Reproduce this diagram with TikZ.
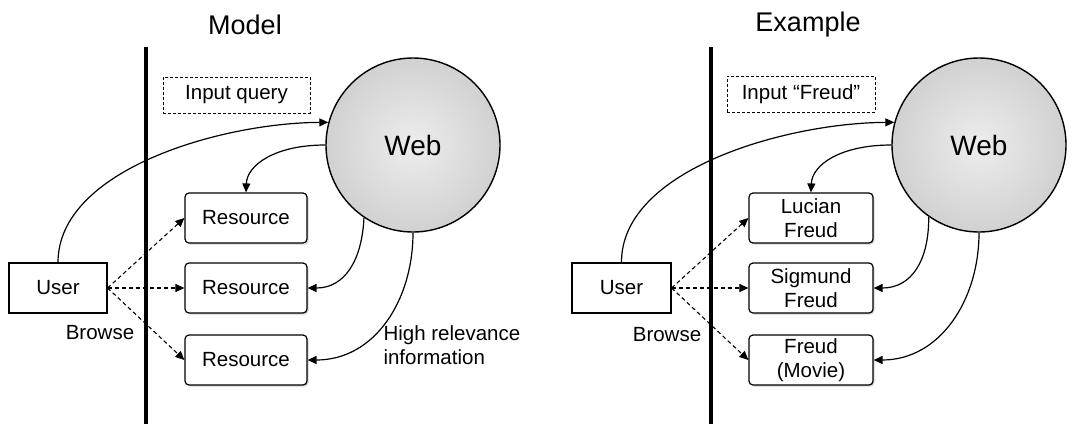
\documentclass[tikz,border=0pt]{standalone}
\usepackage{fontspec}
\setmainfont{Liberation Sans}
\usetikzlibrary{arrows.meta,shadows}
\begin{document}
\begin{tikzpicture}[x=1pt,y=-1pt,
  txt/.style={font=\fontsize{20.5}{24}\selectfont},
  title/.style={font=\fontsize{27}{31}\selectfont},
  resbox/.style={draw,line width=1.2pt,rounded corners=4pt,fill=white,txt,align=center,
    minimum height=50pt,inner sep=0pt,drop shadow={shadow xshift=1.5pt,shadow yshift=-1.5pt,opacity=0.35}},
  userbox/.style={draw,line width=1.2pt,fill=white,txt,minimum width=98pt,minimum height=50pt,inner sep=0pt},
  inbox/.style={draw,line width=1pt,dash pattern=on 3pt off 2pt,txt,minimum height=36pt,inner sep=0pt},
  webnode/.style={circle,draw,line width=1.4pt,minimum size=174pt,inner sep=0pt,
    inner color=gray!14,outer color=gray!36,font=\fontsize{28}{32}\selectfont},
  solidarr/.style={line width=1.2pt,-{Triangle[length=9pt,width=8pt]}},
  dasharr/.style={line width=1.1pt,dash pattern=on 4pt off 3pt,-{Triangle[length=9pt,width=8pt]}},
  divider/.style={line width=4pt}
]
\useasboundingbox (0,0) rectangle (1075,424);

% ---------- Left: Model ----------
\node[title] (t1) at (245,25) {Model};
\coordinate (d1top) at (146,47);
\coordinate (d1bot) at (146,424);
\draw[divider] (d1top) -- (d1bot);
\node[inbox,minimum width=147pt] (q1) at (236.5,95) {Input query};
\node[webnode] (w1) at (413,145) {Web};
\node[resbox,minimum width=122pt] (r11) at (246,218) {Resource};
\node[resbox,minimum width=122pt] (r12) at (246,288) {Resource};
\node[resbox,minimum width=122pt] (r13) at (246,360) {Resource};
\node[userbox] (u1) at (58,288) {User};
\node[txt] (b1) at (100,333) {Browse};
\node[txt,anchor=west,align=left] (h1) at (380,345) {High relevance\\information};

\draw[solidarr] (u1.north) .. controls (58,170) and (220,123) .. (w1.165);
\draw[solidarr] (w1.180) .. controls (275,145) and (247,165) .. (r11.north);
\draw[solidarr] (w1.236) .. controls (362,260) and (345,288) .. (r12.east);
\draw[solidarr] (w1.south) .. controls (413,300) and (375,360) .. (r13.east);
\draw[dasharr] (u1.east) -- (r11.west);
\draw[dasharr] (u1.east) -- (r12.west);
\draw[dasharr] (u1.east) -- (r13.west);

% ---------- Right: Example ----------
\node[title] (t2) at (808,25) {Example};
\coordinate (d2top) at (711,47);
\coordinate (d2bot) at (711,424);
\draw[divider] (d2top) -- (d2bot);
\node[inbox,minimum width=148pt] (q2) at (801,94) {Input “Freud”};
\node[webnode] (w2) at (979,145) {Web};
\node[resbox,minimum width=124pt] (r21) at (811,218) {Lucian\\Freud};
\node[resbox,minimum width=124pt] (r22) at (811,288) {Sigmund\\Freud};
\node[resbox,minimum width=124pt] (r23) at (811,360) {Freud\\(Movie)};
\node[userbox,minimum width=99pt] (u2) at (621.5,288) {User};
\node[txt] (b2) at (667,335) {Browse};

\draw[solidarr] (u2.north) .. controls (621,170) and (785,123) .. (w2.165);
\draw[solidarr] (w2.180) .. controls (840,145) and (812,165) .. (r21.north);
\draw[solidarr] (w2.235) .. controls (929,260) and (912,288) .. (r22.east);
\draw[solidarr] (w2.south) .. controls (979,300) and (940,360) .. (r23.east);
\draw[dasharr] (u2.east) -- (r21.west);
\draw[dasharr] (u2.east) -- (r22.west);
\draw[dasharr] (u2.east) -- (r23.west);
\end{tikzpicture}
\end{document}
